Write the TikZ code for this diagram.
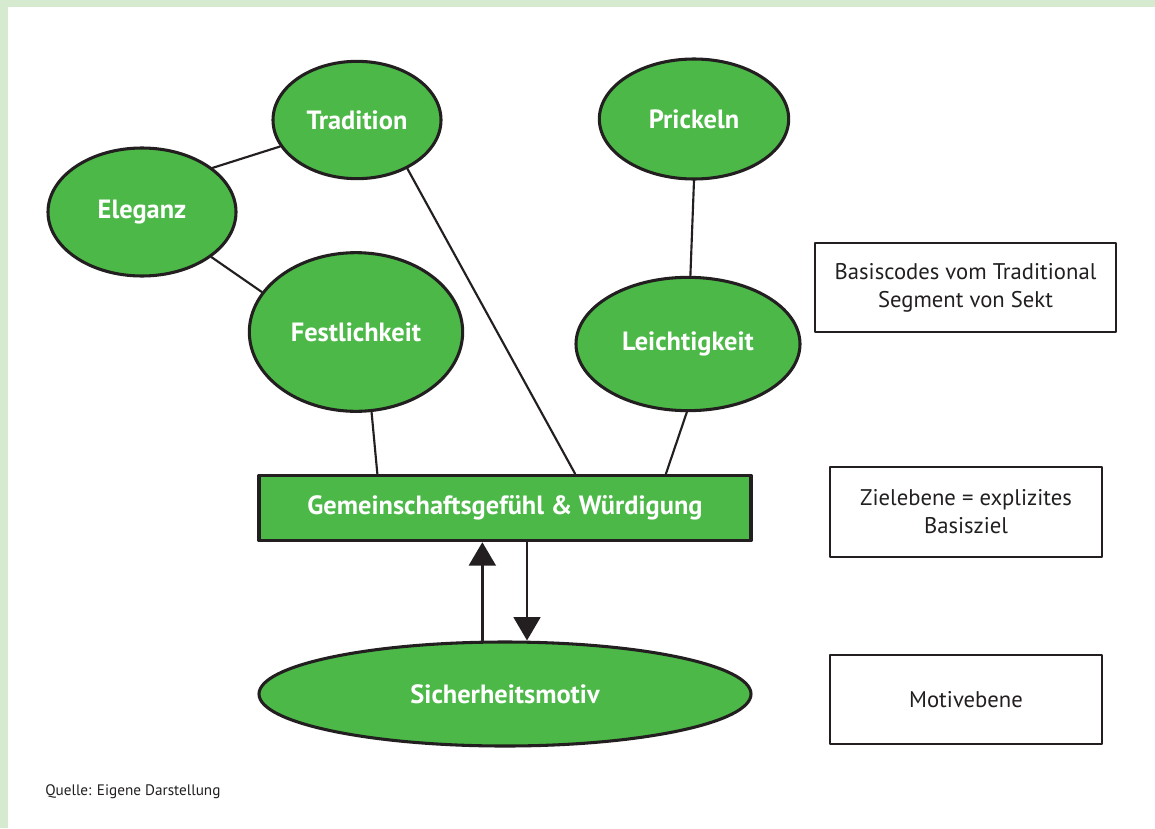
\documentclass[tikz,border=0pt]{standalone}
\usepackage{fontspec}
\setmainfont{PT Sans}
\usepackage{tikz}
\usetikzlibrary{arrows.meta,shapes.geometric}
\definecolor{codegreen}{RGB}{76,184,72}
\definecolor{framegreen}{RGB}{213,234,206}
\definecolor{inkline}{RGB}{35,31,32}

\begin{document}
\begin{tikzpicture}[x=0.75pt, y=-0.75pt,
                    line cap=round, line join=round,
                    code/.style={ellipse, draw=inkline, line width=2.3pt, fill=codegreen,
                                 text=white, inner sep=0pt, font=\fontsize{19.8}{23}\selectfont\bfseries},
                    goal/.style={rectangle, draw=inkline, line width=2.3pt, fill=codegreen,
                                 text=white, inner sep=0pt, font=\fontsize{19.8}{23}\selectfont\bfseries},
                    note/.style={rectangle, draw=inkline, line width=1.5pt, fill=white,
                                 text=inkline, inner sep=0pt, align=center,
                                 font=\fontsize{17}{21}\selectfont},
                    link/.style={inkline, line width=1.6pt},
                    flow/.style={inkline, line width=2.1pt, >={Triangle[width=20pt,length=17.5pt]}, ->}]
  \def\Wpic{1155}
  \def\Hpic{828}

  % page and frame
  \useasboundingbox (0,0) rectangle (\Wpic,\Hpic);
  \fill[white] (0,0) rectangle (\Wpic,\Hpic);
  \fill[framegreen] (0,0) rectangle (\Wpic,7);
  \fill[framegreen] (0,0) rectangle (8,\Hpic);

  % basic codes
  \node[code, minimum width=126pt, minimum height=88pt] (tradition) at (357,120) {Tradition};
  \node[code, minimum width=141pt, minimum height=96pt] (eleganz) at (142,212) {Eleganz};
  \node[code, minimum width=160pt, minimum height=119pt] (festlich) at (356,332) {Festlichkeit};
  \node[code, minimum width=142pt, minimum height=90pt] (prickeln) at (694,119) {Prickeln};
  \node[code, minimum width=168pt, minimum height=100pt] (leicht) at (688,344) {Leichtigkeit};

  % goal and motive
  \node[goal, minimum width=369pt, minimum height=49pt] (gemein) at (505,508) {Gemeinschaftsgefühl \& Würdigung};
  \node[code, minimum width=369pt, minimum height=78pt] (motiv) at (505,694) {Sicherheitsmotiv};

  % legend boxes
  \node[note, minimum width=226pt, minimum height=67pt] (legcodes) at (965.5,287.5)
    {Basiscodes vom Traditional\\Segment von Sekt};
  \node[note, minimum width=204pt, minimum height=67pt] (leggoal) at (966,512)
    {Zielebene = explizites\\Basisziel};
  \node[note, minimum width=204pt, minimum height=67pt] (legmotiv) at (966,699.5) {Motivebene};

  \node[anchor=west, text=inkline, inner sep=0pt, font=\fontsize{11.4}{13}\selectfont]
    (quelle) at (45,792) {Quelle: Eigene Darstellung};

  % links between codes
  \draw[link] (tradition.199) -- (eleganz.32);
  \draw[link] (eleganz.327) -- (festlich.157);
  \draw[link] (prickeln.south) -- (leicht.88);
  \draw[link] (tradition.316) -- (gemein.26);
  \draw[link] (festlich.281) -- (gemein.165);
  \draw[link] (leicht.269) -- (gemein.12);

  % arrows goal <-> motive
  \draw[flow] ([xshift=-17pt]motiv.north) -- ([xshift=-17pt]gemein.south);
  \draw[flow] ([xshift=16.5pt]gemein.south) -- ([xshift=16.5pt]motiv.north);

\end{tikzpicture}
\end{document}
